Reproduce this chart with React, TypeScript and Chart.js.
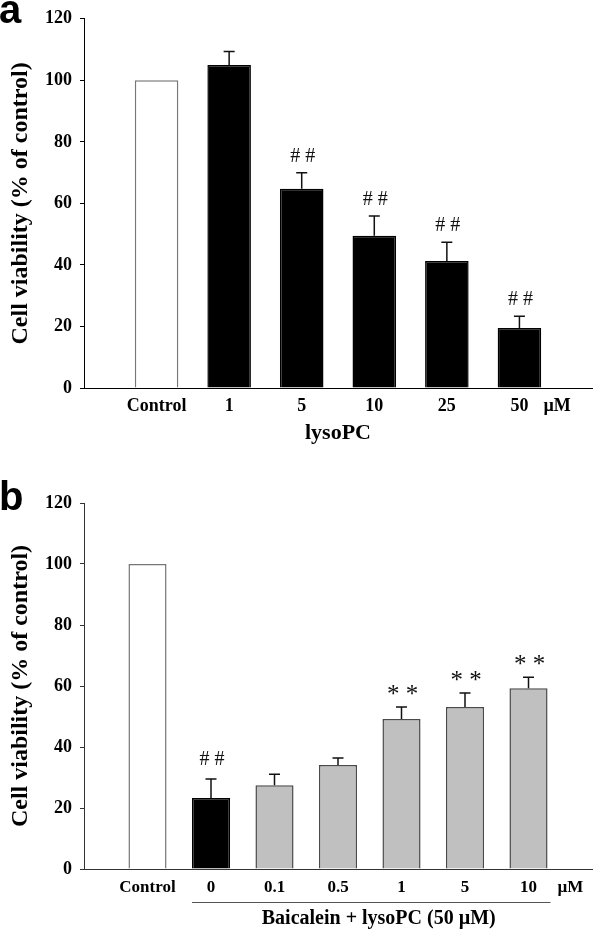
import React, { useEffect, useRef } from 'react';
import { Chart, registerables } from 'chart.js';

Chart.register(...registerables);

const SERIF = "'Liberation Serif', 'Times New Roman', serif";
const SANS = "'Liberation Sans', Arial, sans-serif";

// ---------- Panel a data ----------
const categoriesA = ['', 'Control', '1', '5', '10', '25', '50', ''];
const viabilityA = [null, 100, 105, 64.8, 49.5, 41.3, 19.5, null];
const errorA = [null, 0, 4.4, 5.2, 6.4, 6.1, 3.8, null];
const marksA = ['', '', '', '# #', '# #', '# #', '# #', ''];
const groupA = ['', 'control', 'lyso', 'lyso', 'lyso', 'lyso', 'lyso', ''];

// ---------- Panel b data ----------
const categoriesB = ['', 'Control', '0', '0.1', '0.5', '1', '5', '10', ''];
const viabilityB = [null, 100, 23.3, 27.5, 34.1, 49.2, 53.1, 59.3, null];
const errorB = [null, 0, 6.2, 3.6, 2.3, 3.9, 4.6, 3.6, null];
const marksB = ['', '', '# #', '', '', '* *', '* *', '* *', ''];
const groupB = ['', 'control', 'lyso', 'baic', 'baic', 'baic', 'baic', 'baic', ''];

const yTickValues = [0, 20, 40, 60, 80, 100, 120];
const yTitle = 'Cell viability (% of control)';
const unitLabel = 'µM';
const xTitleA = 'lysoPC';
const xTitleB = 'Baicalein + lysoPC (50 µM)';

const FILL: Record<string, string> = { control: '#ffffff', lyso: '#000000', baic: '#c0c0c0', '': 'rgba(0,0,0,0)' };
const EDGE: Record<string, string> = { control: '#777777', lyso: '#000000', baic: '#4a4a4a', '': 'rgba(0,0,0,0)' };

type PanelOpts = {
  id: string;
  letter: string;
  letterBaseline: number;
  categories: string[];
  values: (number | null)[];
  errors: (number | null)[];
  marks: string[];
  groups: string[];
  height: number;
  areaTop: number;
  areaLeft: number;
  xHeight: number;
  xTickSize: number;
  xTickPad: number;
  unitOffset: number;
  axisColor: string;
  hashGap: number;
  starGap: number;
  xTitle?: string;
  groupTitle?: { text: string; from: number; to: number; lineY: number; textY: number; size: number };
};

function makeOverlay(p: PanelOpts) {
  return {
    id: 'overlay_' + p.id,
    afterDraw(chart: any) {
      const ctx = chart.ctx as CanvasRenderingContext2D;
      const xs = chart.scales.x;
      const ys = chart.scales.y;
      ctx.save();
      p.values.forEach((v, i) => {
        if (v == null) return;
        const x = xs.getPixelForValue(i);
        const e = p.errors[i] || 0;
        const top = ys.getPixelForValue(v);
        const cap = ys.getPixelForValue(v + e);
        if (e > 0) {
          ctx.strokeStyle = '#111';
          ctx.lineWidth = 1.5;
          ctx.beginPath();
          ctx.moveTo(x, top);
          ctx.lineTo(x, cap);
          ctx.moveTo(x - 5.5, cap);
          ctx.lineTo(x + 5.5, cap);
          ctx.stroke();
        }
        const m = p.marks[i];
        if (m) {
          ctx.fillStyle = '#111';
          ctx.textAlign = 'center';
          ctx.textBaseline = 'alphabetic';
          if (m.includes('*')) {
            ctx.font = `25px ${SERIF}`;
            ctx.fillText(m, x + 1, cap - p.starGap);
          } else {
            ctx.font = `20px ${SERIF}`;
            ctx.fillText(m, x + 1, cap - p.hashGap);
          }
        }
      });
      // unit label after the last tick label
      let lastIdx = -1;
      p.categories.forEach((c, i) => { if (c) lastIdx = i; });
      const lx = xs.getPixelForValue(lastIdx);
      ctx.fillStyle = '#000';
      ctx.font = `bold ${p.xTickSize}px ${SERIF}`;
      ctx.textAlign = 'left';
      ctx.textBaseline = 'middle';
      ctx.fillText(unitLabel, lx + p.unitOffset, xs.top + p.xTickPad + (p.xTickSize * 1.2) / 2);
      // group title with underline
      if (p.groupTitle) {
        const g = p.groupTitle;
        const x0 = xs.getPixelForValue(g.from) - 19;
        const x1 = xs.getPixelForValue(g.to) + 22;
        ctx.strokeStyle = '#555';
        ctx.lineWidth = 1;
        ctx.beginPath();
        ctx.moveTo(x0, g.lineY + 0.5);
        ctx.lineTo(x1, g.lineY + 0.5);
        ctx.stroke();
        ctx.font = `bold ${g.size}px ${SERIF}`;
        ctx.textAlign = 'center';
        ctx.textBaseline = 'alphabetic';
        ctx.fillText(g.text, (xs.getPixelForValue(g.from) + xs.getPixelForValue(g.to)) / 2 + 9, g.textY);
      }
      // panel letter
      ctx.font = `bold 40px ${SANS}`;
      ctx.textAlign = 'left';
      ctx.textBaseline = 'alphabetic';
      ctx.fillText(p.letter, -1, p.letterBaseline);
      ctx.restore();
    },
  };
}

function buildConfig(p: PanelOpts): any {
  return {
    type: 'bar',
    data: {
      labels: p.categories,
      datasets: [
        {
          data: p.values,
          backgroundColor: p.groups.map((g) => FILL[g]),
          borderColor: p.groups.map((g) => EDGE[g]),
          borderWidth: 1.5,
          barPercentage: 0.6,
          categoryPercentage: 1,
        },
      ],
    },
    options: {
      responsive: false,
      animation: false,
      devicePixelRatio: 1,
      layout: { padding: { top: p.areaTop, right: 1, bottom: 0, left: 0 } },
      plugins: { legend: { display: false }, tooltip: { enabled: false } },
      scales: {
        x: {
          type: 'category',
          offset: false,
          grid: { display: false, drawTicks: false, tickLength: 0 },
          border: { display: true, color: p.axisColor, width: 1 },
          ticks: {
            autoSkip: false,
            maxRotation: 0,
            padding: p.xTickPad,
            color: '#000',
            font: { family: SERIF, size: p.xTickSize, weight: 'bold' },
          },
          title: p.xTitle
            ? {
                display: true,
                text: p.xTitle,
                color: '#000',
                font: { family: SERIF, size: 22, weight: 'bold' },
                padding: { top: 0, bottom: 3 },
              }
            : { display: false },
          afterFit: (s: any) => {
            s.height = p.xHeight;
          },
        },
        y: {
          min: 0,
          max: 120,
          grid: { drawOnChartArea: false, drawTicks: true, tickLength: 4, color: p.axisColor, lineWidth: 1 },
          border: { display: true, color: p.axisColor, width: 1 },
          ticks: {
            stepSize: 20,
            padding: 8,
            color: '#000',
            font: { family: SERIF, size: 18, weight: 'bold' },
          },
          afterBuildTicks: (s: any) => {
            s.ticks = yTickValues.map((v) => ({ value: v }));
          },
          title: {
            display: true,
            text: yTitle,
            color: '#000',
            font: { family: SERIF, size: 24, weight: 'bold' },
            padding: { top: 6, bottom: 0 },
          },
          afterFit: (s: any) => {
            s.width = p.areaLeft;
          },
        },
      },
    },
    plugins: [makeOverlay(p)],
  };
}

const panelA: PanelOpts = {
  id: 'a',
  letter: 'a',
  letterBaseline: 23,
  categories: categoriesA,
  values: viabilityA,
  errors: errorA,
  marks: marksA,
  groups: groupA,
  height: 450,
  areaTop: 16,
  areaLeft: 84,
  xHeight: 62,
  xTickSize: 18,
  xTickPad: 8,
  unitOffset: 24,
  axisColor: '#000',
  hashGap: 11,
  starGap: 6,
  xTitle: xTitleA,
};

const panelB: PanelOpts = {
  id: 'b',
  letter: 'b',
  letterBaseline: 60,
  categories: categoriesB,
  values: viabilityB,
  errors: errorB,
  marks: marksB,
  groups: groupB,
  height: 479,
  areaTop: 53,
  areaLeft: 84,
  xHeight: 60,
  xTickSize: 17,
  xTickPad: 8,
  unitOffset: 29,
  axisColor: '#333',
  hashGap: 14,
  starGap: 5,
  groupTitle: { text: xTitleB, from: 2, to: 7, lineY: 452, textY: 474, size: 20 },
};

function Panel({ p, top }: { p: PanelOpts; top: number }) {
  const ref = useRef<HTMLCanvasElement>(null);
  useEffect(() => {
    const chart = new Chart(ref.current as HTMLCanvasElement, buildConfig(p));
    return () => chart.destroy();
  }, []);
  return (
    <canvas
      ref={ref}
      width={600}
      height={p.height}
      style={{ position: 'absolute', left: 0, top, width: 600, height: p.height, display: 'block' }}
    />
  );
}

export default function App() {
  return (
    <div style={{ position: 'absolute', left: 0, top: 0, width: 600, height: 929, background: '#fff', overflow: 'hidden' }}>
      <Panel p={panelA} top={0} />
      <Panel p={panelB} top={450} />
    </div>
  );
}
